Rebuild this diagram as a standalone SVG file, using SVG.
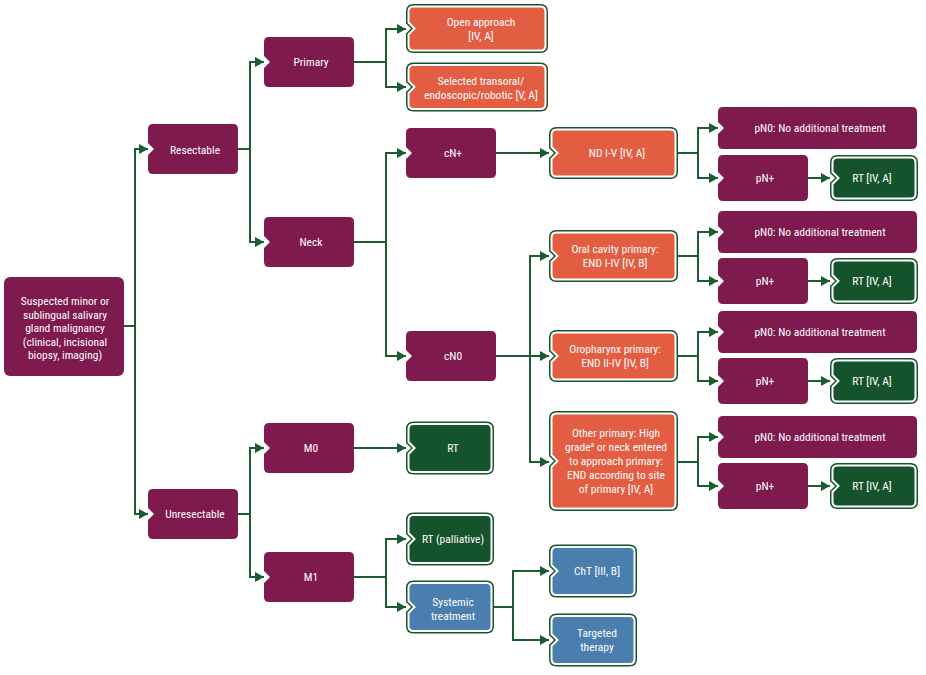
<svg xmlns="http://www.w3.org/2000/svg" xmlns:xlink="http://www.w3.org/1999/xlink" width="926" height="675" viewBox="0 0 926 675">
<style>
.t{font-family:"Liberation Sans Narrow","Roboto Condensed","Liberation Sans",sans-serif;font-size:11.5px;fill:#fff;text-anchor:middle}
.mar{fill:#7e1a4e}
.org{fill:#e35d42}
.grn{fill:#15532c}
.blu{fill:#4a7eae}
.c{fill:none;stroke:#1b5b31;stroke-width:2;marker-end:url(#ah)}
.c0{fill:none;stroke:#1b5b31;stroke-width:2}
</style>
<defs>
<marker id="ah" markerUnits="userSpaceOnUse" markerWidth="10" markerHeight="10" refX="9" refY="5" orient="auto">
<path d="M0,0 L9,5 L0,10 Z" fill="#1b5b31"/>
</marker>
<path id="mA" d="M5,0 H85 Q90,0 90,5 V45 Q90,50 85,50 H5 Q0,50 0,45 V31 L6,25 L0,19 V5 Q0,0 5,0 Z"/>
<path id="mP0" d="M5,0 H194 Q199,0 199,5 V37 Q199,42 194,42 H5 Q0,42 0,37 V27 L6,21 L0,15 V5 Q0,0 5,0 Z"/>
<path id="mPp" d="M5,0 H85 Q90,0 90,5 V41 Q90,46 85,46 H5 Q0,46 0,41 V29 L6,23 L0,17 V5 Q0,0 5,0 Z"/>
<path id="pRT" d="M5,0 H78 Q83,0 83,5 V36 Q83,41 78,41 H5 Q0,41 0,36 V26.5 L6,20.5 L0,14.5 V5 Q0,0 5,0 Z"/>
<path id="pOA" d="M5,0 H132 Q137,0 137,5 V39 Q137,44 132,44 H5 Q0,44 0,39 V28 L6,22 L0,16 V5 Q0,0 5,0 Z"/>
<path id="pND" d="M5,0 H119 Q124,0 124,5 V42 Q124,47 119,47 H5 Q0,47 0,42 V29.5 L6,23.5 L0,17.5 V5 Q0,0 5,0 Z"/>
<path id="pOT" d="M5,0 H119 Q124,0 124,5 V90 Q124,95 119,95 H5 Q0,95 0,90 V53.5 L6,47.5 L0,41.5 V5 Q0,0 5,0 Z"/>
<path id="pG" d="M5,0 H78 Q83,0 83,5 V43 Q83,48 78,48 H5 Q0,48 0,43 V30 L6,24 L0,18 V5 Q0,0 5,0 Z"/>
<g id="bRT"><use xlink:href="#pRT" stroke="#15532c" stroke-width="5"/><use xlink:href="#pRT" stroke="#fff" stroke-width="2"/></g>
<g id="bOA"><use xlink:href="#pOA" stroke="#15532c" stroke-width="5"/><use xlink:href="#pOA" stroke="#fff" stroke-width="2"/></g>
<g id="bND"><use xlink:href="#pND" stroke="#15532c" stroke-width="5"/><use xlink:href="#pND" stroke="#fff" stroke-width="2"/></g>
<g id="bOT"><use xlink:href="#pOT" stroke="#15532c" stroke-width="5"/><use xlink:href="#pOT" stroke="#fff" stroke-width="2"/></g>
<g id="bG"><use xlink:href="#pG" stroke="#15532c" stroke-width="5"/><use xlink:href="#pG" stroke="#fff" stroke-width="2"/></g>
</defs>
<rect width="926" height="675" fill="#fff"/>
<g id="connectors">
<path class="c" d="M124,326 H135 V149 H148"/>
<path class="c" d="M135,326 V514 H148"/>
<path class="c" d="M238,149 H250 V62 H264"/>
<path class="c" d="M250,149 V242 H264"/>
<path class="c" d="M354,62 H386 V29 H406"/>
<path class="c" d="M386,62 V87 H406"/>
<path class="c" d="M354,242 H386 V153 H406"/>
<path class="c" d="M386,242 V356 H406"/>
<path class="c" d="M496,153 H549"/>
<path class="c" d="M678,153 H698 V128 H718"/>
<path class="c" d="M698,153 V178 H718"/>
<path class="c" d="M808,178 H830"/>
<path class="c" d="M496,356 H530 V256 H549"/>
<path class="c" d="M530,356 V462 H549"/>
<path class="c" d="M530,356 H549"/>
<path class="c" d="M678,256 H698 V232 H718"/>
<path class="c" d="M698,256 V281 H718"/>
<path class="c" d="M808,281 H830"/>
<path class="c" d="M678,356 H698 V332 H718"/>
<path class="c" d="M698,356 V381 H718"/>
<path class="c" d="M808,381 H830"/>
<path class="c" d="M678,462 H698 V437 H718"/>
<path class="c" d="M698,462 V486 H718"/>
<path class="c" d="M808,486 H830"/>
<path class="c" d="M238,514 H250 V448 H264"/>
<path class="c" d="M250,514 V577 H264"/>
<path class="c" d="M354,448 H406"/>
<path class="c" d="M354,577 H386 V539 H406"/>
<path class="c" d="M386,577 V607 H406"/>
<path class="c" d="M494,607 H513 V571 H549"/>
<path class="c" d="M513,607 V640 H549"/>
</g>
<g id="n-root"><rect class="mar" x="4" y="277" width="120" height="99" rx="6"/>
<text class="t" x="65" y="305">Suspected minor or</text>
<text class="t" x="65" y="318.5">sublingual salivary</text>
<text class="t" x="65" y="332">gland malignancy</text>
<text class="t" x="65" y="345.5">(clinical, incisional</text>
<text class="t" x="65" y="359">biopsy, imaging)</text></g>
<g id="n-resectable"><use xlink:href="#mA" class="mar" x="148" y="124"/><text class="t" x="195" y="153.5">Resectable</text></g>
<g id="n-unresectable"><use xlink:href="#mA" class="mar" x="148" y="489"/><text class="t" x="195" y="518">Unresectable</text></g>
<g id="n-primary"><use xlink:href="#mA" class="mar" x="264" y="37"/><text class="t" x="311" y="66">Primary</text></g>
<g id="n-neck"><use xlink:href="#mA" class="mar" x="264" y="217"/><text class="t" x="311" y="246">Neck</text></g>
<g id="n-cnplus"><use xlink:href="#mA" class="mar" x="406" y="128"/><text class="t" x="453" y="157">cN+</text></g>
<g id="n-cn0"><use xlink:href="#mA" class="mar" x="406" y="331"/><text class="t" x="453" y="360">cN0</text></g>
<g id="n-m0"><use xlink:href="#mA" class="mar" x="264" y="423"/><text class="t" x="311" y="452">M0</text></g>
<g id="n-m1"><use xlink:href="#mA" class="mar" x="264" y="552"/><text class="t" x="311" y="581">M1</text></g>
<g id="n-open"><use xlink:href="#bOA" class="org" x="408.5" y="6.5"/><text class="t" x="481" y="26">Open approach</text><text class="t" x="481" y="40">[IV, A]</text></g>
<g id="n-selected"><use xlink:href="#bOA" class="org" x="408.5" y="65"/><text class="t" x="481" y="85">Selected transoral/</text><text class="t" x="481" y="99">endoscopic/robotic [V, A]</text></g>
<g id="n-nd"><use xlink:href="#bND" class="org" x="551.5" y="129.5"/><text class="t" x="617" y="157">ND I-V [IV, A]</text></g>
<g id="n-oral"><use xlink:href="#bND" class="org" x="551.5" y="232.5"/><text class="t" x="615" y="253">Oral cavity primary:</text><text class="t" x="615" y="267">END I-IV [IV, B]</text></g>
<g id="n-oro"><use xlink:href="#bND" class="org" x="551.5" y="332.5"/><text class="t" x="615" y="353">Oropharynx primary:</text><text class="t" x="615" y="367">END II-IV [IV, B]</text></g>
<g id="n-other"><use xlink:href="#bOT" class="org" x="551.5" y="413.5"/>
<text class="t" x="616" y="437">Other primary: High</text>
<text class="t" x="616" y="451">grade<tspan font-size="7" dy="-4">a</tspan><tspan dy="4"> or neck entered</tspan></text>
<text class="t" x="616" y="465">to approach primary:</text>
<text class="t" x="616" y="479">END according to site</text>
<text class="t" x="616" y="493">of primary [IV, A]</text></g>
<g id="n-pn0-1"><use xlink:href="#mP0" class="mar" x="718" y="107"/><text class="t" x="820" y="132">pN0: No additional treatment</text></g>
<g id="n-pnp-1"><use xlink:href="#mPp" class="mar" x="718" y="155"/><text class="t" x="765" y="182">pN+</text></g>
<g id="n-rt-1"><use xlink:href="#bRT" class="grn" x="832.5" y="157.5"/><text class="t" x="872" y="182">RT [IV, A]</text></g>
<g id="n-pn0-2"><use xlink:href="#mP0" class="mar" x="718" y="211"/><text class="t" x="820" y="236">pN0: No additional treatment</text></g>
<g id="n-pnp-2"><use xlink:href="#mPp" class="mar" x="718" y="258"/><text class="t" x="765" y="285">pN+</text></g>
<g id="n-rt-2"><use xlink:href="#bRT" class="grn" x="832.5" y="260.5"/><text class="t" x="872" y="285">RT [IV, A]</text></g>
<g id="n-pn0-3"><use xlink:href="#mP0" class="mar" x="718" y="311"/><text class="t" x="820" y="336">pN0: No additional treatment</text></g>
<g id="n-pnp-3"><use xlink:href="#mPp" class="mar" x="718" y="358"/><text class="t" x="765" y="385">pN+</text></g>
<g id="n-rt-3"><use xlink:href="#bRT" class="grn" x="832.5" y="360.5"/><text class="t" x="872" y="385">RT [IV, A]</text></g>
<g id="n-pn0-4"><use xlink:href="#mP0" class="mar" x="718" y="416"/><text class="t" x="820" y="441">pN0: No additional treatment</text></g>
<g id="n-pnp-4"><use xlink:href="#mPp" class="mar" x="718" y="463"/><text class="t" x="765" y="490">pN+</text></g>
<g id="n-rt-4"><use xlink:href="#bRT" class="grn" x="832.5" y="465.5"/><text class="t" x="872" y="490">RT [IV, A]</text></g>
<g id="n-rt-m0"><use xlink:href="#bG" class="grn" x="408.5" y="424"/><text class="t" x="453" y="452">RT</text></g>
<g id="n-rt-pall"><use xlink:href="#bG" class="grn" x="408.5" y="515"/><text class="t" x="453" y="543">RT (palliative)</text></g>
<g id="n-systemic"><use xlink:href="#bG" class="blu" x="408.5" y="583"/><text class="t" x="453" y="606">Systemic</text><text class="t" x="453" y="619.5">treatment</text></g>
<g id="n-cht"><use xlink:href="#bG" class="blu" x="551.5" y="547"/><text class="t" x="597" y="575">ChT [III, B]</text></g>
<g id="n-targeted"><use xlink:href="#bG" class="blu" x="551.5" y="616"/><text class="t" x="597" y="637">Targeted</text><text class="t" x="597" y="651">therapy</text></g>
</svg>
